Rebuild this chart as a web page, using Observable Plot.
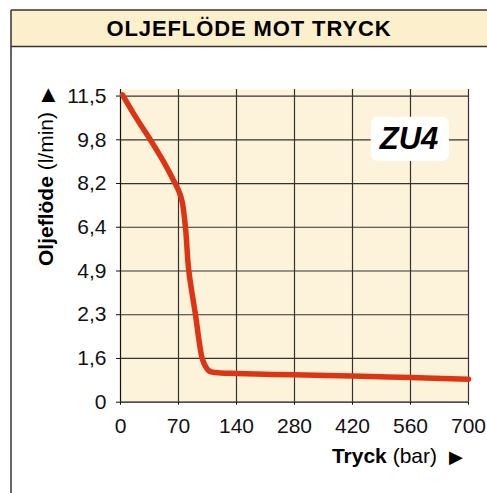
<!DOCTYPE html>
<html><head><meta charset="utf-8">
<script src="https://cdn.jsdelivr.net/npm/d3@7"></script>
<script src="https://cdn.jsdelivr.net/npm/@observablehq/plot@0.6"></script>
<style>
body{margin:0;background:#fff;}
#chart{position:relative;width:487px;height:493px;overflow:hidden;font-family:"Liberation Sans",Arial,Helvetica,sans-serif;}
#chart svg{display:block;}
</style>
</head><body><div id="chart"></div>
<script>
// Axis tick values and labels (the chart uses evenly spaced, non-linear ticks)
const xTickValues = [0, 70, 140, 280, 420, 560, 700];
const xTickLabels = ["0", "70", "140", "280", "420", "560", "700"];
const yTickValues = [0, 1.6, 2.3, 4.9, 6.4, 8.2, 9.8, 11.5];
const yTickLabels = ["0", "1,6", "2,3", "4,9", "6,4", "8,2", "9,8", "11,5"];

// Curve: pressure (bar) and oil flow (l/min)
const pressure = [2.5, 19, 36, 52, 66, 71, 74.5, 78.4, 82.4, 90.5, 98.6, 102.6, 106.2, 110.7, 120.7, 140, 280, 420, 560, 700];
const flow     = [11.55, 10.65, 9.8, 9.0, 8.2, 7.84, 7.44, 6.4, 4.92, 2.3, 1.6, 1.31, 1.16, 1.10, 1.07, 1.05, 1.0, 0.96, 0.9, 0.84];

const title = "OLJEFLÖDE MOT TRYCK";
const yLabelBold = "Oljeflöde", yLabelRest = " (l/min)";
const xLabelBold = "Tryck", xLabelRest = " (bar)";
const badge = "ZU4";

// piecewise mapping of values onto evenly spaced tick positions
const xi = d3.scaleLinear().domain(xTickValues).range(d3.range(xTickValues.length));
const yi = d3.scaleLinear().domain(yTickValues).range(d3.range(yTickValues.length));
const data = pressure.map((p, i) => ({x: xi(p), y: yi(flow[i])}));

const W = 487, H = 493;
const plot = Plot.plot({
  width: W, height: H,
  marginLeft: 120, marginRight: 19, marginTop: 89, marginBottom: 91.3,
  style: {fontFamily: '"Liberation Sans",Arial,sans-serif', fontSize: "21px", color: "#111", background: "transparent", overflow: "visible"},
  x: {domain: [0, xTickValues.length - 1], ticks: d3.range(xTickValues.length), tickFormat: i => xTickLabels[i], tickSize: 3, tickPadding: 13, label: null},
  y: {domain: [0, 7.15], ticks: d3.range(yTickValues.length), tickFormat: i => yTickLabels[i], tickSize: 4, tickPadding: 10, label: null},
  marks: [
    Plot.frame({fill: "#fdf3da", stroke: null}),
    Plot.ruleX(d3.range(1, xTickValues.length), {stroke: "#333", strokeWidth: 1.2}),
    Plot.ruleY(d3.range(1, yTickValues.length), {stroke: "#333", strokeWidth: 1.2}),
    Plot.ruleX([0], {stroke: "#111", strokeWidth: 1.2}),
    Plot.ruleY([0], {stroke: "#111", strokeWidth: 1.2}),
    Plot.line(data, {x: "x", y: "y", stroke: "#dd3414", strokeWidth: 5.5, curve: "catmull-rom", strokeLinecap: "round", strokeLinejoin: "round"})
  ]
});
document.getElementById("chart").appendChild(plot);

const svg = d3.select(plot);
const ff = '"Liberation Sans",Arial,sans-serif';
// outer frame and title band
svg.append("rect").attr("x", 11).attr("y", 10).attr("width", W).attr("height", 36.5).attr("fill", "#fcefcb");
svg.append("line").attr("x1", 11).attr("x2", W + 5).attr("y1", 10).attr("y2", 10).attr("stroke", "#333").attr("stroke-width", 1.5);
svg.append("line").attr("x1", 11).attr("x2", W + 5).attr("y1", 46.5).attr("y2", 46.5).attr("stroke", "#333").attr("stroke-width", 1.5);
svg.append("line").attr("x1", 11).attr("x2", 11).attr("y1", 10).attr("y2", H + 5).attr("stroke", "#333").attr("stroke-width", 1.5);
svg.append("text").attr("x", 249).attr("y", 36).attr("text-anchor", "middle")
  .attr("font-family", ff).attr("font-size", 22).attr("font-weight", "bold").attr("letter-spacing", "0.9px").attr("fill", "#000").text(title);

// y label (rotated)
const yl = svg.append("text").attr("transform", "translate(53,177) rotate(-90)").attr("text-anchor", "middle")
  .attr("font-family", ff).attr("font-size", 21).attr("fill", "#000");
yl.append("tspan").attr("font-weight", "bold").text(yLabelBold);
yl.append("tspan").text(yLabelRest);
yl.append("tspan").attr("dx", 10).attr("font-size", 18).text("▶");

// x label
const xl = svg.append("text").attr("x", 463).attr("y", 463).attr("text-anchor", "end")
  .attr("font-family", ff).attr("font-size", 21).attr("fill", "#000");
xl.append("tspan").attr("font-weight", "bold").text(xLabelBold);
xl.append("tspan").text(xLabelRest);
xl.append("tspan").attr("dx", 12).attr("font-size", 18).text("▶");

// model badge
svg.append("rect").attr("x", 370.7).attr("y", 116.7).attr("width", 78.3).attr("height", 44.3).attr("rx", 7).attr("fill", "#fff");
svg.append("text").attr("x", 409).attr("y", 148.5).attr("text-anchor", "middle")
  .attr("font-family", ff).attr("font-size", 31).attr("font-weight", "bold").attr("font-style", "italic").attr("fill", "#000").text(badge);
</script>
</body></html>
